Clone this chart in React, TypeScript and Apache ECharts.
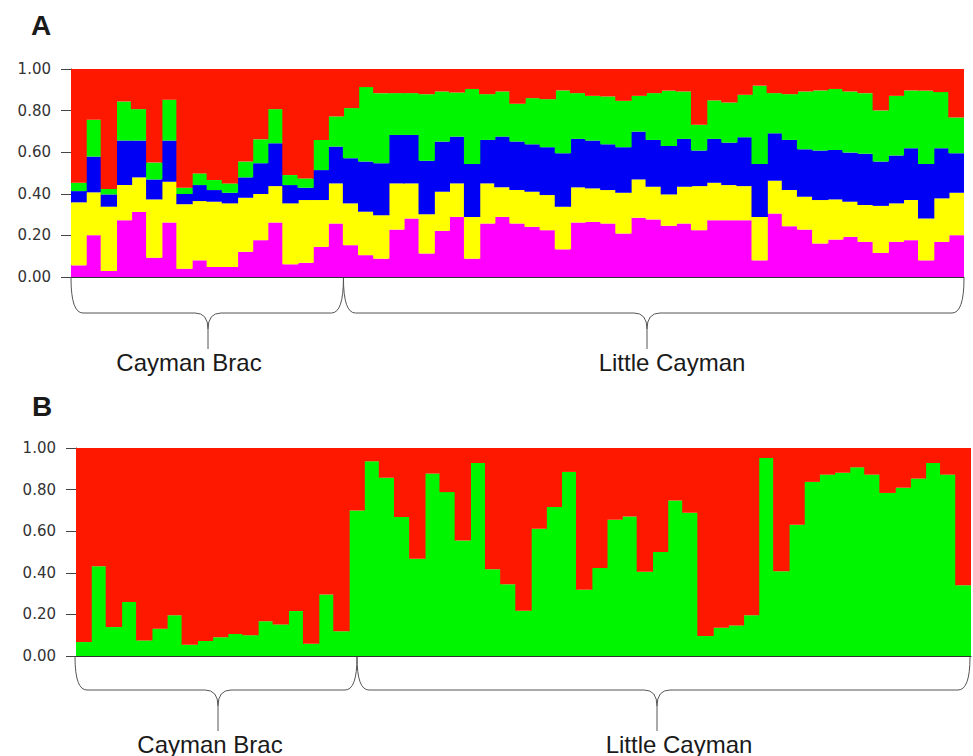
import React, { useEffect, useRef } from "react";
import * as echarts from "echarts";

// ---------- data ----------
const individuals: string[] = Array.from({ length: 59 }, (_, i) => String(i + 1));
const tickLabels = ["0.00", "0.20", "0.40", "0.60", "0.80", "1.00"];
const populations = ["Cayman Brac", "Little Cayman"];
const caymanBracCountA = 18;

// Panel A (K = 5) membership proportions, bottom to top
const aPink = [0.056,0.201,0.029,0.273,0.313,0.093,0.262,0.040,0.080,0.048,0.048,0.121,0.177,0.262,0.061,0.068,0.145,0.257,0.153,0.105,0.088,0.228,0.281,0.113,0.222,0.289,0.088,0.257,0.289,0.257,0.241,0.225,0.133,0.262,0.265,0.257,0.209,0.285,0.277,0.246,0.257,0.225,0.273,0.273,0.273,0.080,0.305,0.244,0.228,0.161,0.180,0.193,0.169,0.116,0.169,0.177,0.080,0.169,0.201];
const aYellow = [0.303,0.206,0.309,0.169,0.166,0.280,0.196,0.310,0.285,0.314,0.306,0.260,0.222,0.175,0.293,0.302,0.225,0.193,0.201,0.209,0.209,0.222,0.169,0.189,0.188,0.161,0.201,0.193,0.142,0.161,0.169,0.169,0.205,0.169,0.161,0.161,0.196,0.184,0.157,0.151,0.177,0.212,0.180,0.169,0.164,0.209,0.158,0.174,0.158,0.209,0.193,0.169,0.177,0.226,0.185,0.193,0.201,0.209,0.204];
const aBlue = [0.054,0.172,0.059,0.214,0.177,0.096,0.198,0.049,0.077,0.056,0.051,0.098,0.148,0.206,0.088,0.059,0.144,0.177,0.217,0.241,0.250,0.233,0.233,0.257,0.241,0.225,0.254,0.209,0.244,0.233,0.228,0.230,0.257,0.233,0.230,0.220,0.219,0.230,0.225,0.233,0.230,0.171,0.211,0.204,0.235,0.254,0.228,0.241,0.228,0.238,0.238,0.236,0.246,0.213,0.230,0.249,0.262,0.241,0.190];
const aGreen = [0.040,0.177,0.026,0.188,0.151,0.081,0.196,0.030,0.056,0.048,0.045,0.076,0.115,0.164,0.048,0.045,0.145,0.145,0.241,0.358,0.337,0.201,0.201,0.320,0.241,0.212,0.361,0.220,0.217,0.182,0.222,0.231,0.302,0.220,0.215,0.230,0.223,0.172,0.225,0.266,0.228,0.124,0.185,0.193,0.204,0.377,0.193,0.220,0.278,0.289,0.293,0.294,0.292,0.246,0.287,0.278,0.353,0.270,0.172];
const aRed = [0.547,0.244,0.577,0.156,0.193,0.450,0.148,0.571,0.502,0.534,0.550,0.445,0.338,0.193,0.510,0.526,0.341,0.228,0.188,0.087,0.116,0.116,0.116,0.121,0.108,0.113,0.096,0.121,0.108,0.167,0.140,0.145,0.103,0.116,0.129,0.132,0.153,0.129,0.116,0.104,0.108,0.268,0.151,0.161,0.124,0.080,0.116,0.121,0.108,0.103,0.096,0.108,0.116,0.199,0.129,0.103,0.104,0.111,0.233];

// Panel B (K = 2) membership proportions
const bGreen = [0.067,0.431,0.139,0.26,0.075,0.131,0.196,0.054,0.072,0.09,0.106,0.10,0.167,0.152,0.216,0.059,0.296,0.119,0.70,0.936,0.857,0.668,0.468,0.877,0.788,0.555,0.928,0.417,0.345,0.218,0.612,0.716,0.885,0.319,0.423,0.655,0.671,0.405,0.50,0.748,0.689,0.096,0.136,0.147,0.196,0.952,0.407,0.631,0.837,0.872,0.881,0.907,0.872,0.784,0.809,0.853,0.928,0.872,0.34];
const bRed = [0.933,0.569,0.861,0.74,0.925,0.869,0.804,0.946,0.928,0.91,0.894,0.90,0.833,0.848,0.784,0.941,0.704,0.881,0.30,0.064,0.143,0.332,0.532,0.123,0.212,0.445,0.072,0.583,0.655,0.782,0.388,0.284,0.115,0.681,0.577,0.345,0.329,0.595,0.50,0.252,0.311,0.904,0.864,0.853,0.804,0.048,0.593,0.369,0.163,0.128,0.119,0.093,0.128,0.216,0.191,0.147,0.072,0.128,0.66];

const COLORS = {
  pink: "#ff00ff",
  yellow: "#ffff00",
  blue: "#0000f4",
  green: "#00f500",
  red: "#ff1800",
};

// ---------- layout ----------
const gridA = { left: 71, top: 69, width: 893, height: 208 };
const gridB = { left: 76, top: 448, width: 895, height: 208 };

function braceParts(xL: number, xR: number, xt: number, yT: number, yH: number, yB: number) {
  const r = 12;
  const c = 13;
  const st = { stroke: "#555", lineWidth: 1, fill: "none" };
  return [
    { type: "bezierCurve", shape: { x1: xL, y1: yT, cpx1: xL, cpy1: yH, x2: xL + r, y2: yH }, style: st },
    { type: "line", shape: { x1: xL + r, y1: yH, x2: xt - c, y2: yH }, style: st },
    { type: "bezierCurve", shape: { x1: xt - c, y1: yH, cpx1: xt, cpy1: yH, x2: xt, y2: yH + 16 }, style: st },
    { type: "line", shape: { x1: xt, y1: yH + 16, x2: xt, y2: yB }, style: st },
    { type: "bezierCurve", shape: { x1: xt + c, y1: yH, cpx1: xt, cpy1: yH, x2: xt, y2: yH + 16 }, style: st },
    { type: "line", shape: { x1: xt + c, y1: yH, x2: xR - r, y2: yH }, style: st },
    { type: "bezierCurve", shape: { x1: xR, y1: yT, cpx1: xR, cpy1: yH, x2: xR - r, y2: yH }, style: st },
  ];
}

function label(text: string, x: number, y: number, font: string) {
  return {
    type: "text",
    x,
    y,
    style: { text, font, fill: "#1a1a1a", align: "center", verticalAlign: "middle" },
  };
}

export default function App() {
  const ref = useRef<HTMLDivElement>(null);

  useEffect(() => {
    if (!ref.current) return;
    const chart = echarts.init(ref.current, undefined, { renderer: "svg" });

    const yAxisCommon = (gridIndex: number) => ({
      type: "value",
      gridIndex,
      min: 0,
      max: 1,
      interval: 0.2,
      splitLine: { show: false },
      axisLine: { show: true, lineStyle: { color: "#444", width: 1 } },
      axisTick: { show: true, length: 10, lineStyle: { color: "#444" } },
      axisLabel: {
        margin: 20,
        color: "#333",
        fontFamily: "DejaVu Sans",
        fontSize: 15,
        formatter: (v: number) => tickLabels[Math.round(v / 0.2)] ?? v.toFixed(2),
      },
    });
    const xAxisCommon = (gridIndex: number) => ({
      type: "category",
      gridIndex,
      data: individuals,
      axisLine: { show: true, onZero: false, lineStyle: { color: "#333", width: 1.2 } },
      axisTick: { show: false },
      axisLabel: { show: false },
      splitLine: { show: false },
      splitArea: { show: false },
    });

    const bandA = gridA.width / individuals.length;
    const bandB = gridB.width / individuals.length;

    const mk = (name: string, data: number[], color: string, idx: number, stack: string) => ({
      name,
      type: "bar",
      stack,
      xAxisIndex: idx,
      yAxisIndex: idx,
      data,
      barWidth: (idx === 0 ? bandA : bandB) + 1.2,
      itemStyle: { color, borderWidth: 0 },
      emphasis: { disabled: true },
    });

    const splitA = gridA.left + caymanBracCountA * bandA;
    const aBot = gridA.top + gridA.height;
    const bBot = gridB.top + gridB.height;

    chart.setOption({
      animation: false,
      grid: [
        { ...gridA, containLabel: false },
        { ...gridB, containLabel: false },
      ],
      xAxis: [xAxisCommon(0), xAxisCommon(1)],
      yAxis: [yAxisCommon(0), yAxisCommon(1)],
      series: [
        mk("A1", aPink, COLORS.pink, 0, "a"),
        mk("A2", aYellow, COLORS.yellow, 0, "a"),
        mk("A3", aBlue, COLORS.blue, 0, "a"),
        mk("A4", aGreen, COLORS.green, 0, "a"),
        mk("A5", aRed, COLORS.red, 0, "a"),
        mk("B1", bGreen, COLORS.green, 1, "b"),
        mk("B2", bRed, COLORS.red, 1, "b"),
      ],
      graphic: [
        label("A", 41, 25, "bold 28px 'Liberation Sans', Arial, sans-serif"),
        label("B", 42, 406, "bold 28px 'Liberation Sans', Arial, sans-serif"),
        {
          type: "group",
          children: [
            ...braceParts(gridA.left, splitA, 208, aBot + 1, 313, 349),
            ...braceParts(splitA, gridA.left + gridA.width, 647, aBot + 1, 313, 349),
            ...braceParts(gridB.left - 1, 357, 218, bBot + 1, 690, 731),
            ...braceParts(357, gridB.left + gridB.width - 1, 657, bBot + 1, 690, 731),
          ],
        },
        label(populations[0], 189, 362, "24px 'Liberation Sans', Arial, sans-serif"),
        label(populations[1], 672, 362, "24px 'Liberation Sans', Arial, sans-serif"),
        label(populations[0], 210, 744, "24px 'Liberation Sans', Arial, sans-serif"),
        label(populations[1], 679, 744, "24px 'Liberation Sans', Arial, sans-serif"),
      ],
    });

    return () => chart.dispose();
  }, []);

  return (
    <div
      ref={ref}
      style={{ position: "fixed", left: 0, top: 0, width: 973, height: 756, background: "#fff" }}
    />
  );
}
